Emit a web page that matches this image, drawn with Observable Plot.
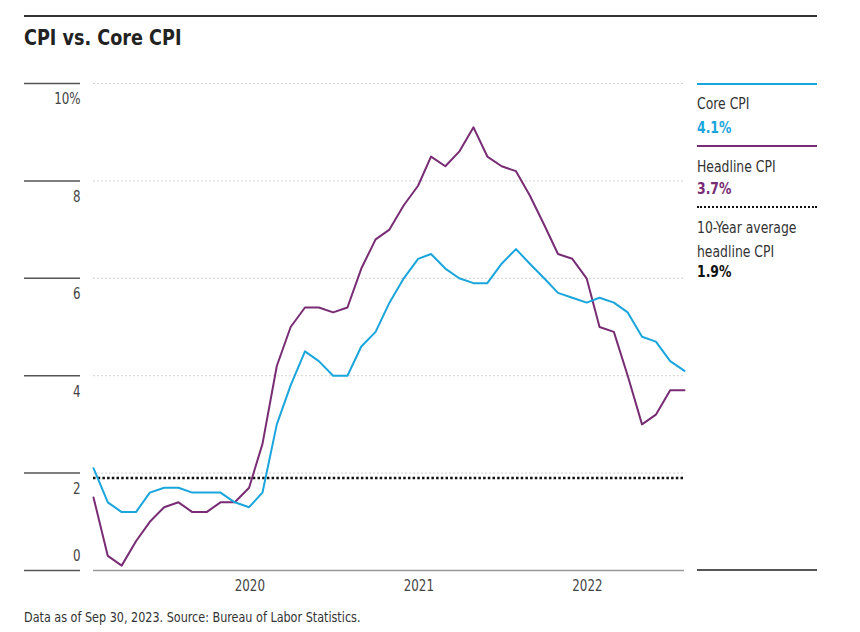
<!DOCTYPE html>
<html>
<head>
<meta charset="utf-8">
<script src="https://cdn.jsdelivr.net/npm/d3@7"></script>
<script src="https://cdn.jsdelivr.net/npm/@observablehq/plot@0.6"></script>
<style>
  html, body { margin: 0; padding: 0; background: #fff; }
  #wrap { position: relative; width: 860px; height: 632px; overflow: hidden;
    font-family: "Liberation Sans Narrow", "DejaVu Sans Condensed", "Roboto", sans-serif; color: #333; }
  #rule { position: absolute; left: 24px; top: 15px; width: 793px; height: 0; border-top: 2px solid #333; }
  #title { position: absolute; left: 24px; top: 27px; font-size: 22px; line-height: 22px; font-weight: bold; color: #222; white-space: nowrap;
    transform: scaleX(0.89); transform-origin: 0 0; }
  #chart { position: absolute; left: 0; top: 0; }
  .lg { position: absolute; left: 697px; font-size: 15px; line-height: 15px; color: #333; white-space: nowrap;
    transform: scaleX(0.92); transform-origin: 0 0; }
  .ln { position: absolute; left: 697px; width: 120px; height: 0; }
  #caption { position: absolute; left: 24px; top: 610px; font-size: 14px; line-height: 14px; color: #333; white-space: nowrap;
    transform: scaleX(0.89); transform-origin: 0 0; }
</style>
</head>
<body>
<div id="wrap">
  <div id="rule"></div>
  <div id="title">CPI vs. Core CPI</div>
  <div id="chart"></div>
  <div class="ln" style="top:83px;border-top:2px solid #1aa5dc"></div>
  <div class="lg" style="top:97px">Core CPI</div>
  <div class="lg" id="vCore" style="top:121px;font-weight:bold;color:#1aa5dc"></div>
  <div class="ln" style="top:145px;border-top:2px solid #772c74"></div>
  <div class="lg" style="top:160px">Headline CPI</div>
  <div class="lg" id="vHead" style="top:182px;font-weight:bold;color:#772c74"></div>
  <div class="ln" style="top:206px;border-top:2px dotted #111"></div>
  <div class="lg" style="top:221px">10-Year average</div>
  <div class="lg" style="top:245px">headline CPI</div>
  <div class="lg" id="vAvg" style="top:265px;font-weight:bold;color:#111"></div>
  <div class="ln" style="top:569px;border-top:2px solid #555"></div>
  <div id="caption">Data as of Sep 30, 2023. Source: Bureau of Labor Statistics.</div>
</div>
<script>
// Monthly series, first month = March 2019 (as labelled on the chart's axis)
const startMonth = "2019-03-01";
const coreCPI = [2.1,1.4,1.2,1.2,1.6,1.7,1.7,1.6,1.6,1.6,
  1.4,1.3,1.6,3.0,3.8,4.5,4.3,4.0,4.0,4.6,4.9,5.5,
  6.0,6.4,6.5,6.2,6.0,5.9,5.9,6.3,6.6,6.3,6.0,5.7,
  5.6,5.5,5.6,5.5,5.3,4.8,4.7,4.3,4.1];
const headlineCPI = [1.5,0.3,0.1,0.6,1.0,1.3,1.4,1.2,1.2,1.4,
  1.4,1.7,2.6,4.2,5.0,5.4,5.4,5.3,5.4,6.2,6.8,7.0,
  7.5,7.9,8.5,8.3,8.6,9.1,8.5,8.3,8.2,7.7,7.1,6.5,
  6.4,6.0,5.0,4.9,4.0,3.0,3.2,3.7,3.7];
const tenYearAvg = 1.9;
const yTicks = [0, 2, 4, 6, 8, 10];
const xTickYears = ["2020-01-01", "2021-01-01", "2022-01-01"];

const start = new Date(startMonth);
const months = coreCPI.map((_, i) => d3.utcMonth.offset(start, i));
const coreData = coreCPI.map((v, i) => ({date: months[i], value: v}));
const headData = headlineCPI.map((v, i) => ({date: months[i], value: v}));

const font = '"Liberation Sans Narrow", "DejaVu Sans Condensed", "Roboto", sans-serif';
const yFmt = d => d === 10 ? "10%" : String(d);

const chart = Plot.plot({
  width: 860,
  height: 632,
  marginLeft: 93,
  marginRight: 176,
  marginTop: 83,
  marginBottom: 62,
  style: {fontFamily: font, fontSize: "15px", color: "#444", background: "transparent", overflow: "visible"},
  x: {type: "utc", domain: [months[0], months[months.length - 1]], label: null},
  y: {domain: [0, 10], label: null},
  marks: [
    Plot.gridY(yTicks.filter(d => d > 0), {stroke: "#d2d2d2", strokeOpacity: 1, strokeDasharray: "2,2"}),
    Plot.ruleY([0], {stroke: "#999", strokeWidth: 1.5}),
    Plot.axisY(yTicks, {tickSize: 56, dx: -13, tickFormat: () => "", stroke: "#555", strokeWidth: 1.5, label: null}),
    Plot.axisY(yTicks.filter(d => d > 0), {tickSize: 0, tickPadding: 13, dy: 16, fontSize: 15, fill: "#444", label: null, tickFormat: yFmt}),
    Plot.axisY(yTicks.filter(d => d === 0), {tickSize: 0, tickPadding: 13, dy: -14, fontSize: 15, fill: "#444", label: null, tickFormat: yFmt}),
    Plot.axisX(xTickYears.map(d => new Date(d)), {tickSize: 0, tickPadding: 10, textAnchor: "start", label: null,
      fontSize: 15, fill: "#444", tickFormat: d3.utcFormat("%Y")}),
    Plot.ruleY([tenYearAvg], {stroke: "#111", strokeWidth: 2.5, strokeDasharray: "2.5,2.2"}),
    Plot.line(headData, {x: "date", y: "value", stroke: "#772c74", strokeWidth: 2}),
    Plot.line(coreData, {x: "date", y: "value", stroke: "#1aa5dc", strokeWidth: 2})
  ]
});
// narrow the axis label glyphs to mimic the condensed face
d3.select(chart).selectAll("g[aria-label$='tick label'] text").each(function() {
  const t = this.getAttribute("transform") || "";
  this.setAttribute("transform", t + " scale(0.88,1)");
});
document.getElementById("chart").appendChild(chart);
document.getElementById("vCore").textContent = coreCPI[coreCPI.length - 1].toFixed(1) + "%";
document.getElementById("vHead").textContent = headlineCPI[headlineCPI.length - 1].toFixed(1) + "%";
document.getElementById("vAvg").textContent = tenYearAvg.toFixed(1) + "%";
</script>
</body>
</html>
